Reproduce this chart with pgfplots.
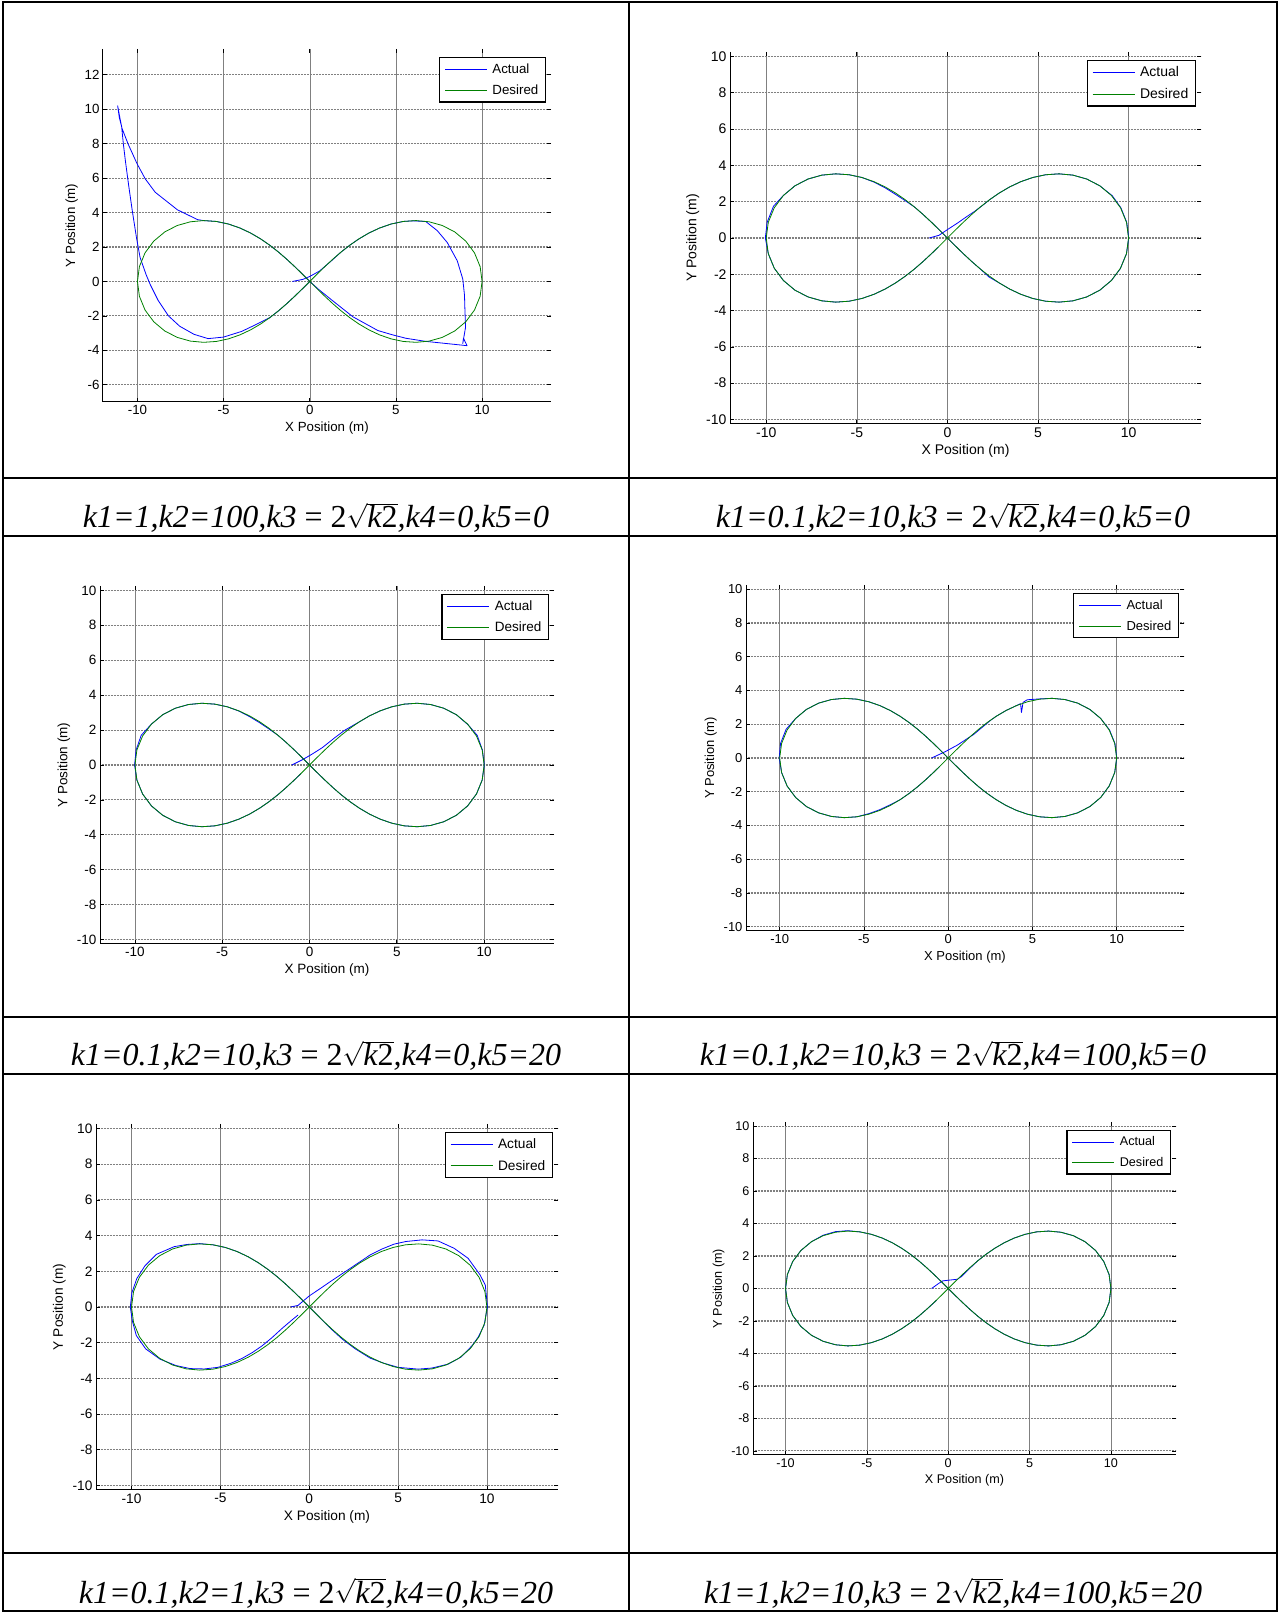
\documentclass[border=0pt]{standalone}
\usepackage{fontspec}
\setmainfont{Liberation Sans}
\newfontfamily\capfont{Liberation Serif}
\usepackage{pgfplots}
\usepackage{pgfplotstable}
\pgfplotsset{compat=1.18}

\definecolor{mblue}{rgb}{0,0,1}
\definecolor{mgreen}{rgb}{0,0.5,0}

% Reference figure-eight (lemniscate, a = 10 m), starting at the origin
\pgfplotstableread{
x y
0.000 0.000
0.437 0.436
0.882 0.868
1.339 1.293
1.816 1.707
2.320 2.103
2.857 2.474
3.433 2.812
4.051 3.103
4.714 3.333
5.421 3.484
6.164 3.535
6.928 3.464
7.690 3.250
8.413 2.877
9.053 2.343
9.560 1.660
9.887 0.862
10.000 0.000
9.887 -0.862
9.560 -1.660
9.053 -2.343
8.413 -2.877
7.690 -3.250
6.928 -3.464
6.164 -3.535
5.421 -3.484
4.714 -3.333
4.051 -3.103
3.433 -2.812
2.857 -2.474
2.320 -2.103
1.816 -1.707
1.339 -1.293
0.882 -0.868
0.437 -0.436
0.000 0.000
-0.437 0.436
-0.882 0.868
-1.339 1.293
-1.816 1.707
-2.320 2.103
-2.857 2.474
-3.433 2.812
-4.051 3.103
-4.714 3.333
-5.421 3.484
-6.164 3.535
-6.928 3.464
-7.690 3.250
-8.413 2.877
-9.053 2.343
-9.560 1.660
-9.887 0.862
-10.000 0.000
-9.887 -0.862
-9.560 -1.660
-9.053 -2.343
-8.413 -2.877
-7.690 -3.250
-6.928 -3.464
-6.164 -3.535
-5.421 -3.484
-4.714 -3.333
-4.051 -3.103
-3.433 -2.812
-2.857 -2.474
-2.320 -2.103
-1.816 -1.707
-1.339 -1.293
-0.882 -0.868
-0.437 -0.436
0.000 0.000
}\desired

% k1=1, k2=100, k4=0, k5=0
\pgfplotstableread{
x y
-1.000 0.000
-0.400 0.120
0.000 0.290
0.560 0.600
1.200 1.150
1.816 1.707
2.320 2.103
2.857 2.474
3.433 2.812
4.051 3.103
4.714 3.333
5.421 3.484
6.000 3.520
6.730 3.480
7.400 2.950
7.980 2.260
8.560 1.200
8.880 0.140
8.980 -0.800
9.000 -1.510
9.040 -2.670
8.940 -3.250
8.880 -3.600
8.920 -3.300
9.130 -3.730
7.880 -3.600
6.730 -3.480
5.580 -3.300
4.800 -3.100
3.950 -2.850
2.500 -2.050
1.240 -1.050
0.500 -0.450
0.000 0.000
-0.437 0.436
-0.882 0.868
-1.339 1.293
-1.816 1.707
-2.320 2.103
-2.857 2.474
-3.433 2.812
-4.051 3.103
-4.714 3.333
-5.421 3.484
-6.164 3.535
-6.510 3.590
-7.680 4.160
-8.970 5.180
-9.550 5.960
-10.020 6.830
-10.550 8.000
-10.900 8.900
-11.000 9.400
-11.150 10.200
-11.050 9.500
-10.920 9.000
-10.820 8.000
-10.700 7.000
-10.500 5.500
-10.300 4.100
-10.050 2.500
-9.850 1.400
-9.500 0.400
-9.250 -0.200
-8.800 -1.100
-8.200 -2.000
-7.550 -2.600
-6.720 -3.070
-5.900 -3.320
-5.000 -3.230
-3.950 -2.900
-3.220 -2.550
-2.320 -2.103
-1.816 -1.707
-1.339 -1.293
-0.882 -0.868
-0.437 -0.436
0.000 0.000
}\actA

% k1=0.1, k2=10, k4=0, k5=0
\pgfplotstableread{
x y
-1.000 0.000
-0.460 0.150
0.000 0.460
0.570 0.830
1.070 1.180
1.550 1.500
1.950 1.800
2.320 2.103
2.857 2.474
3.433 2.812
4.051 3.103
4.714 3.333
5.421 3.484
6.164 3.535
6.928 3.464
7.690 3.250
8.413 2.877
9.100 2.330
9.580 1.660
9.900 0.862
10.010 0.000
9.887 -0.862
9.540 -1.700
9.053 -2.343
8.413 -2.877
7.690 -3.250
6.928 -3.464
6.164 -3.535
5.421 -3.484
4.714 -3.333
4.051 -3.103
3.433 -2.812
2.857 -2.474
2.300 -2.150
1.816 -1.707
1.339 -1.293
0.882 -0.868
0.437 -0.436
0.000 0.000
-0.437 0.436
-0.882 0.868
-1.339 1.293
-1.816 1.707
-2.320 2.050
-2.857 2.400
-3.433 2.760
-4.051 3.080
-4.714 3.333
-5.421 3.484
-6.164 3.535
-6.928 3.464
-7.690 3.250
-8.413 2.877
-9.053 2.343
-9.600 1.750
-9.950 0.862
-10.050 0.000
-9.887 -0.862
-9.560 -1.660
-9.053 -2.343
-8.413 -2.877
-7.690 -3.250
-6.928 -3.464
-6.164 -3.535
-5.421 -3.484
-4.714 -3.333
-4.051 -3.103
-3.433 -2.812
-2.857 -2.474
-2.320 -2.103
-1.816 -1.707
-1.339 -1.293
-0.882 -0.868
-0.500 -0.500
}\actB

% k1=0.1, k2=10, k4=0, k5=20
\pgfplotstableread{
x y
-1.010 0.000
-0.410 0.300
0.160 0.630
0.740 1.000
1.430 1.550
2.000 1.980
2.857 2.474
3.433 2.812
4.051 3.103
4.714 3.333
5.421 3.484
6.164 3.535
6.928 3.464
7.690 3.250
8.413 2.877
9.080 2.300
9.600 1.700
9.900 0.862
10.010 0.000
9.887 -0.862
9.560 -1.660
9.053 -2.343
8.413 -2.877
7.690 -3.250
6.928 -3.464
6.164 -3.535
5.421 -3.484
4.714 -3.333
4.051 -3.103
3.433 -2.812
2.857 -2.474
2.320 -2.103
1.816 -1.707
1.339 -1.293
0.882 -0.868
0.437 -0.436
0.000 0.000
-0.437 0.436
-0.882 0.868
-1.339 1.293
-1.816 1.707
-2.320 2.060
-2.857 2.420
-3.433 2.770
-4.051 3.090
-4.714 3.333
-5.421 3.484
-6.164 3.535
-6.928 3.464
-7.690 3.250
-8.413 2.877
-9.053 2.343
-9.640 1.700
-9.930 0.862
-10.020 0.000
-9.887 -0.862
-9.560 -1.660
-9.053 -2.343
-8.413 -2.877
-7.690 -3.250
-6.928 -3.464
-6.164 -3.535
-5.421 -3.484
-4.714 -3.333
-4.051 -3.103
-3.433 -2.812
-2.857 -2.474
-2.320 -2.103
-1.816 -1.707
-1.339 -1.293
-0.882 -0.868
-0.500 -0.500
}\actC

% k1=0.1, k2=10, k4=100, k5=0
\pgfplotstableread{
x y
-0.980 0.000
-0.200 0.360
0.540 0.760
1.520 1.400
2.500 2.220
2.857 2.474
3.433 2.812
4.051 3.103
4.300 3.220
4.350 2.700
4.450 3.300
4.700 3.450
5.421 3.500
6.164 3.535
6.928 3.464
7.690 3.250
8.413 2.877
9.053 2.343
9.580 1.660
9.900 0.862
10.010 0.000
9.887 -0.862
9.560 -1.660
9.053 -2.343
8.413 -2.877
7.690 -3.250
6.928 -3.464
6.164 -3.535
5.421 -3.484
4.714 -3.333
4.051 -3.103
3.433 -2.812
2.857 -2.474
2.320 -2.103
1.816 -1.707
1.339 -1.293
0.882 -0.868
0.437 -0.436
0.000 0.000
-0.437 0.436
-0.882 0.868
-1.339 1.293
-1.816 1.707
-2.320 2.103
-2.857 2.474
-3.433 2.812
-4.051 3.103
-4.714 3.333
-5.421 3.484
-6.164 3.535
-6.928 3.464
-7.690 3.250
-8.413 2.877
-9.053 2.343
-9.620 1.700
-9.950 0.862
-10.030 0.000
-9.887 -0.862
-9.560 -1.660
-9.053 -2.343
-8.413 -2.877
-7.690 -3.250
-6.928 -3.464
-6.164 -3.535
-5.421 -3.484
-4.714 -3.300
-4.051 -3.060
-3.433 -2.770
-2.857 -2.474
-2.320 -2.103
-1.816 -1.707
-1.339 -1.293
-0.882 -0.868
-0.500 -0.500
}\actD

% k1=0.1, k2=1, k4=0, k5=20
\pgfplotstableread{
x y
-1.040 0.000
-0.630 0.090
0.000 0.620
0.600 1.020
1.170 1.410
2.300 2.160
3.420 2.910
4.100 3.250
4.770 3.520
5.450 3.670
6.350 3.760
7.250 3.700
8.150 3.290
8.940 2.730
9.620 1.790
9.910 1.220
10.030 0.000
9.840 -1.030
9.500 -1.700
9.170 -2.160
8.550 -2.800
7.820 -3.200
6.900 -3.420
6.130 -3.480
5.000 -3.380
4.200 -3.150
3.420 -2.860
2.600 -2.350
1.850 -1.790
1.200 -1.200
0.720 -0.720
0.000 0.000
-0.437 0.436
-0.882 0.868
-1.339 1.293
-1.816 1.707
-2.320 2.103
-2.857 2.474
-3.433 2.812
-4.051 3.103
-4.714 3.333
-5.421 3.484
-6.164 3.550
-6.900 3.500
-7.600 3.380
-8.600 2.950
-9.250 2.300
-9.700 1.600
-9.980 0.800
-10.070 0.000
-9.950 -0.800
-9.730 -1.600
-9.200 -2.350
-8.400 -2.920
-7.500 -3.280
-6.700 -3.450
-5.900 -3.470
-5.140 -3.380
-4.400 -3.150
-3.780 -2.880
-3.200 -2.550
-2.660 -2.180
-2.100 -1.720
-1.530 -1.200
-1.000 -0.750
-0.630 -0.450
}\actE

% k1=1, k2=10, k4=100, k5=20
\pgfplotstableread{
x y
-1.020 0.000
-0.590 0.310
-0.330 0.470
0.560 0.570
0.820 0.740
1.300 1.220
1.816 1.707
2.320 2.103
2.857 2.474
3.433 2.812
4.051 3.103
4.714 3.333
5.421 3.484
6.164 3.535
6.928 3.464
7.690 3.250
8.413 2.877
9.053 2.343
9.560 1.660
9.887 0.862
10.000 0.000
9.887 -0.862
9.560 -1.660
9.053 -2.343
8.413 -2.877
7.690 -3.250
6.928 -3.464
6.164 -3.535
5.421 -3.484
4.714 -3.333
4.051 -3.103
3.433 -2.812
2.857 -2.474
2.320 -2.103
1.816 -1.707
1.339 -1.293
0.882 -0.868
0.437 -0.436
0.000 0.000
-0.437 0.436
-0.882 0.868
-1.339 1.293
-1.816 1.707
-2.320 2.103
-2.857 2.474
-3.433 2.812
-4.051 3.103
-4.714 3.333
-5.421 3.484
-6.164 3.560
-6.928 3.500
-7.690 3.280
-8.413 2.877
-9.053 2.343
-9.560 1.660
-9.887 0.862
-10.000 0.000
-9.887 -0.862
-9.560 -1.660
-9.053 -2.343
-8.413 -2.877
-7.690 -3.250
-6.928 -3.464
-6.164 -3.535
-5.421 -3.484
-4.714 -3.333
-4.051 -3.103
-3.433 -2.812
-2.857 -2.474
-2.320 -2.103
-1.816 -1.707
-1.339 -1.293
-0.710 -0.720
}\actF

\tikzset{axisframe/.style={black, line width=1pt}}

\pgfplotsset{
  trajaxis/.style={
    scale only axis,
    anchor=south west,
    font=\fontsize{#1}{#1}\selectfont,
    xmin=-12, xmax=14,
    xtick={-10,-5,0,5,10},
    axis line style={draw=none},
    tick align=inside,
    major tick length=4pt,
    tick style={black, line width=0.7pt},
    grid=major,
    x grid style={black!50, line width=0.45pt},
    y grid style={black!50, line width=1.1pt, dash pattern=on 0.8pt off 0.7pt},
    xlabel={X Position (m)},
    ylabel={Y Position (m)},
    /pgf/number format/assume math mode=true,
    clip=false,
    legend style={at={(1,1)}, anchor=north east, xshift=-5pt, yshift=-8pt,
      draw=black, line width=1.4pt, fill=white, cells={anchor=west},
      inner xsep=5pt, inner ysep=4pt, row sep=6pt, column sep=3pt,
      nodes={inner sep=2pt}},
    legend image code/.code={\draw[##1] (0pt,0pt) -- (42pt,0pt);},
  },
  actual/.style={color=mblue, line width=0.8pt, line join=round},
  desired/.style={color=mgreen, line width=0.8pt, line join=round},
}

\newcommand{\gains}[2]{{\capfont\fontsize{32}{38}\selectfont\itshape #1{\upshape\ =\ 2}$\sqrt{\hbox{\itshape k\upshape 2}}$#2}}

\begin{document}
\begin{tikzpicture}[x=1pt,y=1pt]
\useasboundingbox (0pt,0pt) rectangle (1279pt,1612pt);

% table rules
\draw[black, line width=2.5pt] (3pt,1610pt) rectangle (1277pt,1pt);
\draw[black, line width=2.5pt] (629pt,1610pt) -- (629pt,1pt);
\foreach \yy in {1134,1076,595,538,59} {
  \draw[black, line width=2.5pt] (3pt,\yy pt) -- (1277pt,\yy pt);
}

% captions
\node[anchor=base] at (316pt,1084pt) {\gains{k1=1,k2=100,k3}{,k4=0,k5=0}};
\node[anchor=base] at (953pt,1084pt) {\gains{k1=0.1,k2=10,k3}{,k4=0,k5=0}};
\node[anchor=base] at (316pt,546pt) {\gains{k1=0.1,k2=10,k3}{,k4=0,k5=20}};
\node[anchor=base] at (953pt,546pt) {\gains{k1=0.1,k2=10,k3}{,k4=100,k5=0}};
\node[anchor=base] at (316pt,9pt) {\gains{k1=0.1,k2=1,k3}{,k4=0,k5=20}};
\node[anchor=base] at (953pt,9pt) {\gains{k1=1,k2=10,k3}{,k4=100,k5=20}};

% top left
\begin{axis}[trajaxis={13.3}, at={(103pt,1210pt)}, width=448pt, height=353pt,
  ymin=-7, ymax=13.5, ytick={-6,-4,...,12}]
\addplot[actual] table {\actA};
\addplot[desired] table {\desired};
\legend{Actual,Desired}
\draw[axisframe] (rel axis cs:0,1) -- (rel axis cs:0,0) -- (rel axis cs:1,0);
\end{axis}

% top right
\begin{axis}[trajaxis={14}, at={(730pt,1188pt)}, width=471pt, height=372pt,
  ymin=-10.25, ymax=10.25, ytick={-10,-8,...,10}]
\addplot[actual] table {\actB};
\addplot[desired] table {\desired};
\legend{Actual,Desired}
\draw[axisframe] (rel axis cs:0,1) -- (rel axis cs:0,0) -- (rel axis cs:1,0);
\end{axis}

% middle left
\begin{axis}[trajaxis={13.5}, at={(100pt,668pt)}, width=454pt, height=358pt,
  ymin=-10.25, ymax=10.25, ytick={-10,-8,...,10}]
\addplot[actual] table {\actC};
\addplot[desired] table {\desired};
\legend{Actual,Desired}
\draw[axisframe] (rel axis cs:0,1) -- (rel axis cs:0,0) -- (rel axis cs:1,0);
\end{axis}

% middle right
\begin{axis}[trajaxis={13}, at={(746pt,681pt)}, width=438pt, height=346pt,
  ymin=-10.25, ymax=10.25, ytick={-10,-8,...,10}]
\addplot[actual] table {\actD};
\addplot[desired] table {\desired};
\legend{Actual,Desired}
\draw[axisframe] (rel axis cs:0,1) -- (rel axis cs:0,0) -- (rel axis cs:1,0);
\end{axis}

% bottom left
\begin{axis}[trajaxis={13.7}, at={(96pt,122pt)}, width=462pt, height=366pt,
  ymin=-10.25, ymax=10.25, ytick={-10,-8,...,10}]
\addplot[actual] table {\actE};
\addplot[desired] table {\desired};
\legend{Actual,Desired}
\draw[axisframe] (rel axis cs:0,1) -- (rel axis cs:0,0) -- (rel axis cs:1,0);
\end{axis}

% bottom right
\begin{axis}[trajaxis={12.6}, at={(753pt,157pt)}, width=423pt, height=333pt,
  ymin=-10.25, ymax=10.25, ytick={-10,-8,...,10}]
\addplot[actual] table {\actF};
\addplot[desired] table {\desired};
\legend{Actual,Desired}
\draw[axisframe] (rel axis cs:0,1) -- (rel axis cs:0,0) -- (rel axis cs:1,0);
\end{axis}
\end{tikzpicture}
\end{document}
